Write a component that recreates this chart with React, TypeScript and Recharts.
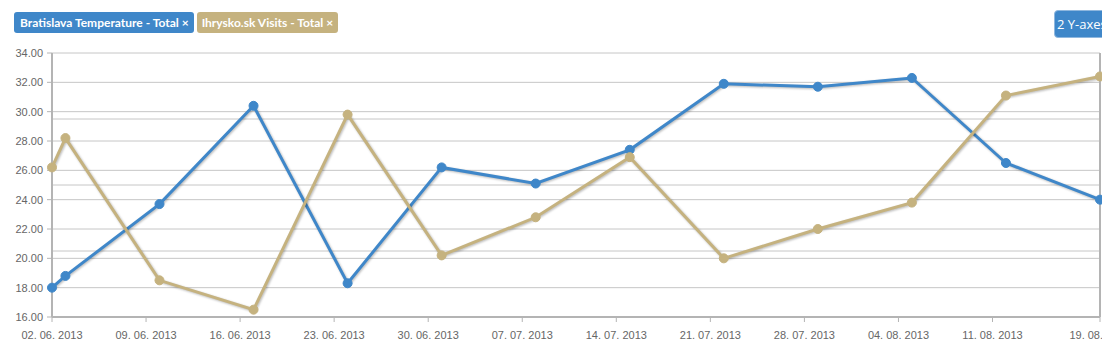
import React from "react";
import { LineChart, Line, XAxis, YAxis, CartesianGrid, ReferenceLine } from "recharts";

const dayOffsets = [0, 1, 8, 15, 22, 29, 36, 43, 50, 57, 64, 71, 78];
const temperature = [18.0, 18.8, 23.7, 30.4, 18.3, 26.2, 25.1, 27.4, 31.9, 31.7, 32.3, 26.5, 24.0];
const visits = [26.2, 28.2, 18.5, 16.5, 29.8, 20.2, 22.8, 26.9, 20.0, 22.0, 23.8, 31.1, 32.4];

const xTicks = [0, 7, 14, 21, 28, 35, 42, 49, 56, 63, 70, 78];
const xTickLabels = [
  "02. 06. 2013",
  "09. 06. 2013",
  "16. 06. 2013",
  "23. 06. 2013",
  "30. 06. 2013",
  "07. 07. 2013",
  "14. 07. 2013",
  "21. 07. 2013",
  "28. 07. 2013",
  "04. 08. 2013",
  "11. 08. 2013",
  "19. 08. 2013",
];
const yTicks = [16, 18, 20, 22, 24, 26, 28, 30, 32, 34];
const rightTicks = [0, 1, 2, 3, 4];

const seriesNames = ["Bratislava Temperature - Total", "Ihrysko.sk Visits - Total"];
const BLUE = "#3f87c9";
const TAN = "#c5b27f";

const data = dayOffsets.map((d, i) => ({ day: d, temperature: temperature[i], visits: visits[i] }));

// second (right) axis gridlines expressed in left-axis units
const lMin = yTicks[0];
const lMax = yTicks[yTicks.length - 1];
const rMin = rightTicks[0];
const rMax = rightTicks[rightTicks.length - 1];
const rightGridInLeft = rightTicks
  .slice(1, -1)
  .map((v) => lMin + ((v - rMin) / (rMax - rMin)) * (lMax - lMin));

const tickFont = { fontFamily: "'Liberation Sans', Arial, sans-serif", fontSize: 11, fill: "#666666" };

export default function App() {
  return (
    <div
      style={{
        position: "absolute",
        left: 0,
        top: 0,
        width: 1102,
        height: 347,
        overflow: "hidden",
        background: "#ffffff",
      }}
    >
      <style>{`.recharts-line-curve{filter:drop-shadow(1px 1.5px 1px rgba(0,0,0,0.28));}`}</style>
      <div style={{ position: "absolute", left: 0, top: 0 }}>
        <LineChart
          width={1160}
          height={347}
          data={data}
          margin={{ top: 53, right: 10, bottom: 0, left: 0 }}
        >
          <CartesianGrid yAxisId="left" vertical={false} stroke="#c6c6c6" strokeWidth={1} />
          {rightGridInLeft.map((v) => (
            <ReferenceLine key={v} yAxisId="left" y={v} stroke="#c6c6c6" strokeWidth={1} />
          ))}
          <XAxis
            dataKey="day"
            type="number"
            domain={[0, 78]}
            ticks={xTicks}
            interval={0}
            height={30}
            tickSize={5}
            tickMargin={9}
            axisLine={{ stroke: "#b4b4b4", strokeWidth: 2 }}
            tickLine={{ stroke: "#b4b4b4", strokeWidth: 1 }}
            tick={tickFont}
            tickFormatter={(v: number) => xTickLabels[xTicks.indexOf(v)] ?? ""}
          />
          <YAxis
            yAxisId="left"
            domain={[16, 34]}
            ticks={yTicks}
            interval={0}
            width={52}
            tickSize={5}
            tickMargin={4}
            axisLine={{ stroke: "#b4b4b4", strokeWidth: 2 }}
            tickLine={{ stroke: "#b4b4b4", strokeWidth: 1 }}
            tick={tickFont}
            tickFormatter={(v: number) => v.toFixed(2)}
          />
          <YAxis
            yAxisId="right"
            orientation="right"
            domain={[0, 4]}
            ticks={rightTicks}
            interval={0}
            width={50}
            tickSize={5}
            axisLine={{ stroke: "#b4b4b4", strokeWidth: 2 }}
            tickLine={{ stroke: "#b4b4b4", strokeWidth: 1 }}
            tick={tickFont}
            tickFormatter={() => ""}
          />
          <Line
            yAxisId="left"
            type="linear"
            dataKey="temperature"
            name={seriesNames[0]}
            stroke={BLUE}
            strokeWidth={3}
            dot={{ r: 4.5, fill: BLUE, stroke: BLUE, strokeWidth: 1 }}
            activeDot={false}
            isAnimationActive={false}
          />
          <Line
            yAxisId="left"
            type="linear"
            dataKey="visits"
            name={seriesNames[1]}
            stroke={TAN}
            strokeWidth={3}
            dot={{ r: 4.5, fill: TAN, stroke: TAN, strokeWidth: 1 }}
            activeDot={false}
            isAnimationActive={false}
          />
        </LineChart>
      </div>
      <div
        style={{
          position: "absolute",
          left: 14,
          top: 12,
          height: 21,
          display: "flex",
          gap: 3,
          fontFamily: "Lato, 'Open Sans', sans-serif",
          fontWeight: 700,
          fontSize: 12,
          color: "#ffffff",
        }}
      >
        <div
          style={{
            background: BLUE,
            borderRadius: 3,
            height: 21,
            lineHeight: "21px",
            padding: "0 5px 0 6px",
            whiteSpace: "nowrap",
          }}
        >
          {seriesNames[0]} ×
        </div>
        <div
          style={{
            background: TAN,
            borderRadius: 3,
            height: 21,
            lineHeight: "21px",
            padding: "0 5px 0 5px",
            whiteSpace: "nowrap",
          }}
        >
          {seriesNames[1]} ×
        </div>
      </div>
      <div
        style={{
          position: "absolute",
          left: 1054,
          top: 10,
          height: 26,
          width: 70,
          background: BLUE,
          border: "1px solid #8fb7de",
          borderRadius: 4,
          color: "#ffffff",
          fontFamily: "'Open Sans', sans-serif",
          fontSize: 13,
          lineHeight: "26px",
          paddingLeft: 2,
          whiteSpace: "nowrap",
        }}
      >
        2 Y-axes
      </div>
    </div>
  );
}
